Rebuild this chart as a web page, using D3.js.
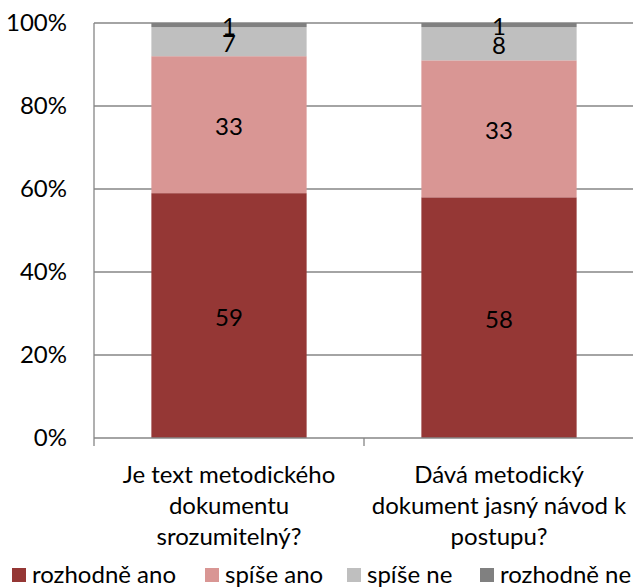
<!DOCTYPE html>
<html>
<head>
<meta charset="utf-8">
<script src="https://cdn.jsdelivr.net/npm/d3@7"></script>
<style>
  body { margin: 0; background: #fff; }
  svg { display: block; font-family: Lato, "Open Sans", sans-serif; }
</style>
</head>
<body>
<div id="chart"></div>
<script>
// data
var categories = [
  ["Je text metodického", "dokumentu", "srozumitelný?"],
  ["Dává metodický", "dokument jasný návod k", "postupu?"]
];
var seriesNames = ["rozhodně ano", "spíše ano", "spíše ne", "rozhodně ne"];
var rozhodneAno = [59, 58];
var spiseAno = [33, 33];
var spiseNe = [7, 8];
var rozhodneNe = [1, 1];
var yTicks = [0, 20, 40, 60, 80, 100];
var colors = ["#953735", "#d99694", "#bfbfbf", "#808080"];

var W = 633, H = 588;
var margin = {top: 23, right: -1, bottom: 150, left: 94},
    width = W - margin.left - margin.right,
    height = H - margin.top - margin.bottom;
var fontSize = "24px";

var svg = d3.select("#chart").append("svg")
    .attr("width", W)
    .attr("height", H);

var g = svg.append("g")
    .attr("transform", "translate(" + margin.left + "," + margin.top + ")");

// table built from the arrays
var table = categories.map(function(c, i) {
  return {key: i, "rozhodně ano": rozhodneAno[i], "spíše ano": spiseAno[i],
          "spíše ne": spiseNe[i], "rozhodně ne": rozhodneNe[i]};
});
var stacked = d3.stack().keys(seriesNames)(table);

var x = d3.scaleBand()
    .domain(d3.range(categories.length))
    .range([0, width])
    .paddingInner(0.425)
    .paddingOuter(0.2125);
var xTick = d3.scaleBand().domain(d3.range(categories.length)).range([0, width]);

var y = d3.scaleLinear().domain([0, 100]).range([height, 0]);
var color = d3.scaleOrdinal().domain(seriesNames).range(colors);

// gridlines
g.append("g")
  .selectAll("line")
  .data(yTicks.slice(1))
  .join("line")
    .attr("x1", 0).attr("x2", width)
    .attr("y1", function(d) { return y(d); })
    .attr("y2", function(d) { return y(d); })
    .attr("stroke", "#868686")
    .attr("stroke-width", 1.3);

// bars
var layer = g.append("g")
  .selectAll("g")
  .data(stacked)
  .join("g")
    .attr("fill", function(d) { return color(d.key); });

layer.selectAll("rect")
  .data(function(d) { return d; })
  .join("rect")
    .attr("x", function(d, i) { return x(i); })
    .attr("y", function(d) { return y(d[1]); })
    .attr("width", x.bandwidth())
    .attr("height", function(d) { return y(d[0]) - y(d[1]); });

// value labels
layer.selectAll("text")
  .data(function(d) { return d.map(function(v, i) { return {v: v, i: i}; }); })
  .join("text")
    .attr("x", function(d) { return x(d.i) + x.bandwidth() / 2; })
    .attr("y", function(d) { return (y(d.v[0]) + y(d.v[1])) / 2; })
    .attr("dy", "0.42em")
    .attr("text-anchor", "middle")
    .attr("fill", "#000")
    .style("font-size", fontSize)
    .text(function(d) { return d.v[1] - d.v[0]; });

// y axis
var yAxis = g.append("g")
  .call(d3.axisLeft(y).tickValues(yTicks).tickSize(0).tickPadding(27)
    .tickFormat(function(d) { return d + "%"; }));
yAxis.select(".domain").attr("stroke", "#868686").attr("stroke-width", 1.3)
  .attr("d", "M0," + height + "V0");
yAxis.selectAll(".tick text").style("font-size", fontSize).attr("fill", "#000")
  .style("font-family", "Lato, sans-serif");

// x axis
var xAxis = g.append("g")
  .attr("transform", "translate(0," + height + ")");
xAxis.append("line")
  .attr("x1", 0).attr("x2", width)
  .attr("stroke", "#868686").attr("stroke-width", 1.3);
xAxis.selectAll(".xt")
  .data(d3.range(categories.length + 1))
  .join("line")
    .attr("class", "xt")
    .attr("x1", function(d) { return d * xTick.bandwidth(); })
    .attr("x2", function(d) { return d * xTick.bandwidth(); })
    .attr("y1", 0).attr("y2", 8)
    .attr("stroke", "#868686").attr("stroke-width", 1.3);

xAxis.selectAll(".xl")
  .data(categories)
  .join("text")
    .attr("class", "xl")
    .attr("text-anchor", "middle")
    .attr("x", function(d, i) { return x(i) + x.bandwidth() / 2; })
    .attr("y", 45)
    .style("font-size", fontSize)
  .selectAll("tspan")
  .data(function(d) { return d; })
  .join("tspan")
    .attr("x", function() { return d3.select(this.parentNode).attr("x"); })
    .attr("dy", function(d, i) { return i === 0 ? 0 : 31; })
    .text(function(d) { return d; });

// legend
var legendX = [12, 205, 347, 480];
var legend = svg.append("g")
  .selectAll("g")
  .data(seriesNames)
  .join("g")
    .attr("transform", function(d, i) { return "translate(" + legendX[i] + ",568)"; });
legend.append("rect")
  .attr("width", 14).attr("height", 14)
  .attr("fill", function(d) { return color(d); });
legend.append("text")
  .attr("x", 20).attr("y", 15)
  .style("font-size", fontSize)
  .text(function(d) { return d; });
</script>
</body>
</html>
